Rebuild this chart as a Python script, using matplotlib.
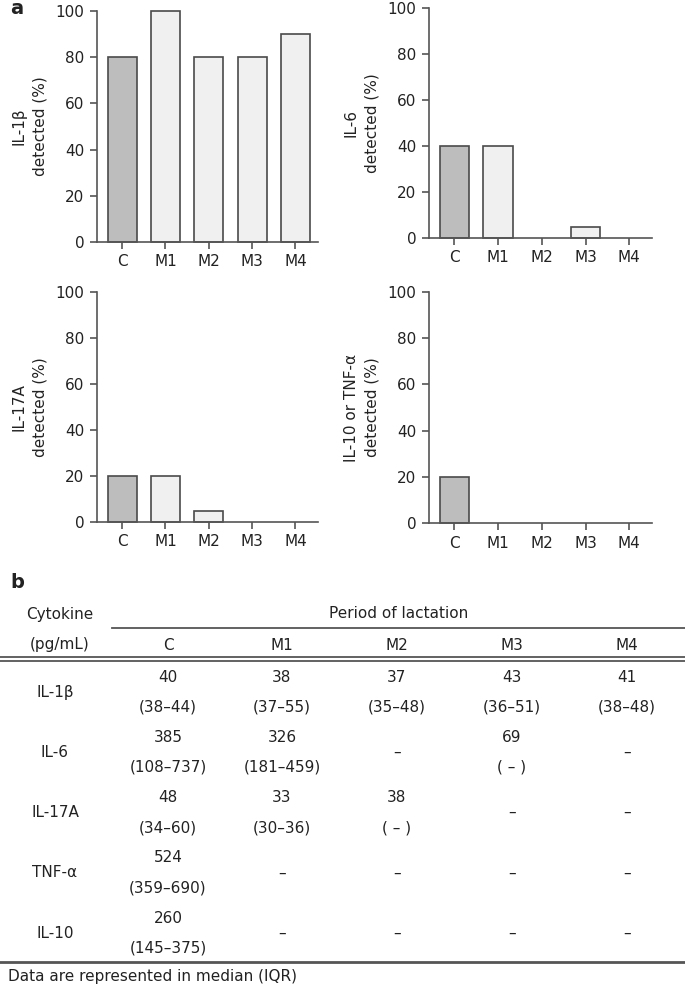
import numpy as np
import matplotlib.pyplot as plt

# percent of samples with detectable cytokine, by period
periods = ['C', 'M1', 'M2', 'M3', 'M4']
il1b = [80, 100, 80, 80, 90]
il6 = [40, 40, 0, 5, 0]
il17a = [20, 20, 5, 0, 0]
il10_tnfa = [20, 0, 0, 0, 0]
panel_labels = ['IL-1β\ndetected (%)', 'IL-6\ndetected (%)',
                'IL-17A\ndetected (%)', 'IL-10 or TNF-α\ndetected (%)']

# table b: median (IQR), pg/mL
cytokines = ['IL-1β', 'IL-6', 'IL-17A', 'TNF-α', 'IL-10']
medians = [['40', '38', '37', '43', '41'],
           ['385', '326', '–', '69', '–'],
           ['48', '33', '38', '–', '–'],
           ['524', '–', '–', '–', '–'],
           ['260', '–', '–', '–', '–']]
iqrs = [['(38–44)', '(37–55)', '(35–48)', '(36–51)', '(38–48)'],
        ['(108–737)', '(181–459)', '', '( – )', ''],
        ['(34–60)', '(30–36)', '( – )', '', ''],
        ['(359–690)', '', '', '', ''],
        ['(145–375)', '', '', '', '']]

W, H = 685, 989
fig = plt.figure(figsize=(W / 100, H / 100), dpi=100)
txt = '#222222'
edge = '#4a4a4a'

def px_axes(l, t, r, b):
    return fig.add_axes([l / W, 1 - b / H, (r - l) / W, (b - t) / H])

boxes = [(97, 11, 318, 242), (429, 8, 652, 238),
         (97, 292, 318, 522), (429, 292, 652, 523)]
series = [il1b, il6, il17a, il10_tnfa]
x = np.arange(len(periods))
colors = ['#bdbdbd'] + ['#f0f0f0'] * (len(periods) - 1)

for box, vals, lab in zip(boxes, series, panel_labels):
    ax = px_axes(*box)
    # no outline for empty bars, they'd just thicken the axis line
    lws = [1.2 if v > 0 else 0 for v in vals]
    ax.bar(x, vals, width=0.67, color=colors, edgecolor=edge,
           linewidth=lws, clip_on=False, zorder=2)
    ax.set_xlim(-0.58, 4.52)
    ax.set_ylim(0, 100)
    ax.set_yticks(range(0, 101, 20))
    ax.set_xticks(x)
    ax.set_xticklabels(periods)
    for s in ['top', 'right']:
        ax.spines[s].set_visible(False)
    for s in ['left', 'bottom']:
        ax.spines[s].set_color('#555555')
        ax.spines[s].set_linewidth(1.2)
    ax.tick_params(length=5, width=1.2, color='#555555', labelsize=11,
                   labelcolor=txt, pad=4)
    ax.set_ylabel(lab, fontsize=11, color=txt, linespacing=1.45, labelpad=6)

fig.text(10 / W, 1 - 9 / H, 'a', fontsize=14, fontweight='bold',
         color=txt, va='center', ha='left')
fig.text(10 / W, 1 - 583 / H, 'b', fontsize=14, fontweight='bold',
         color=txt, va='center', ha='left')

# table drawn on a pixel-space overlay
tx = fig.add_axes([0, 0, 1, 1])
tx.set_xlim(0, W)
tx.set_ylim(H, 0)
tx.axis('off')

fs = 11
label_x = 60
col_x = [168, 282, 397, 512, 627]
tx.text(label_x, 615, 'Cytokine', fontsize=fs, color=txt, ha='center', va='center')
tx.text(label_x, 645, '(pg/mL)', fontsize=fs, color=txt, ha='center', va='center')
tx.text(np.mean([112, W]), 613, 'Period of lactation', fontsize=fs,
        color=txt, ha='center', va='center')
tx.plot([112, W], [628, 628], color='#555555', lw=1.3)
for cx, p in zip(col_x, periods):
    tx.text(cx, 645, p, fontsize=fs, color=txt, ha='center', va='center')
tx.plot([0, W], [657, 657], color='#555555', lw=1.3)
tx.plot([0, W], [661, 661], color='#555555', lw=1.3)

row0, row_step = 692, 60.3
for i, name in enumerate(cytokines):
    yc = row0 + i * row_step
    tx.text(label_x - 5, yc, name, fontsize=fs, color=txt, ha='center', va='center')
    for j, cx in enumerate(col_x):
        if iqrs[i][j]:
            tx.text(cx, yc - 15, medians[i][j], fontsize=fs, color=txt,
                    ha='center', va='center')
            tx.text(cx, yc + 15, iqrs[i][j], fontsize=fs, color=txt,
                    ha='center', va='center')
        else:
            tx.text(cx, yc, medians[i][j], fontsize=fs, color=txt,
                    ha='center', va='center')

tx.plot([0, W], [962, 962], color='#555555', lw=2)
tx.text(8, 977, 'Data are represented in median (IQR)', fontsize=fs,
        color=txt, ha='left', va='center')

fig.savefig('out.png', dpi=100)
